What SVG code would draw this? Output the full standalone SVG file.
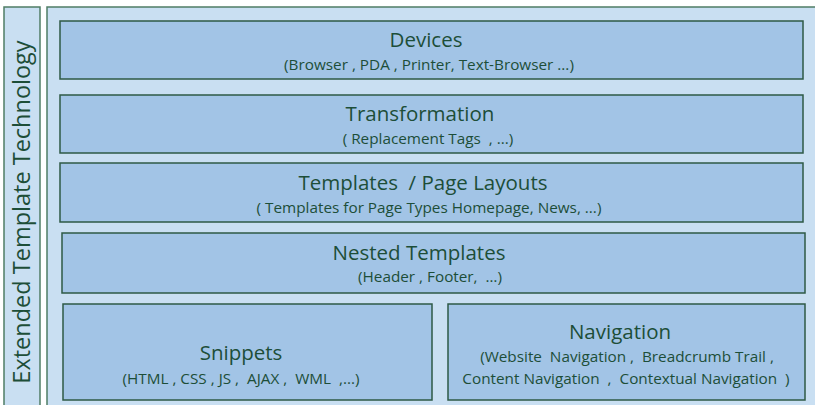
<svg xmlns="http://www.w3.org/2000/svg" width="815" height="405" viewBox="0 0 815 405">
<style>
.panel{fill:#c9dff2;stroke:#4f7d66;stroke-width:1.5}
.box{fill:#a2c4e6;stroke:#2e5a45;stroke-width:1.5}
text{font-family:"Open Sans","Noto Sans",sans-serif;fill:#1d4e38;text-anchor:middle;white-space:pre}
.t{font-size:20.5px}
.s{font-size:15.3px}
.side{font-size:23.5px}
</style>
<rect width="815" height="405" fill="#ffffff"/>
<g id="side">
<rect class="panel" x="4" y="7" width="36" height="400"/>
<text class="side" transform="translate(30,212) rotate(-90)">Extended Template Technology</text>
</g>
<rect class="panel" x="47" y="7" width="780" height="400"/>
<g id="devices">
<rect class="box" x="60" y="21" width="743" height="58"/>
<text class="t" x="426" y="47">Devices</text>
<text class="s" x="429" y="70">(Browser , PDA , Printer, Text-Browser ...)</text>
</g>
<g id="transformation">
<rect class="box" x="60" y="95" width="743" height="58"/>
<text class="t" x="420" y="121">Transformation</text>
<text class="s" x="428" y="144">( Replacement Tags  , ...)</text>
</g>
<g id="templates">
<rect class="box" x="60" y="163" width="743" height="59"/>
<text class="t" x="423" y="190">Templates  / Page Layouts</text>
<text class="s" x="429" y="213">( Templates for Page Types Homepage, News, ...)</text>
</g>
<g id="nested">
<rect class="box" x="62" y="233" width="743" height="60"/>
<text class="t" x="419" y="260">Nested Templates</text>
<text class="s" x="430" y="282">(Header , Footer,  …)</text>
</g>
<g id="snippets">
<rect class="box" x="63" y="304" width="369" height="96"/>
<text class="t" x="241" y="360">Snippets</text>
<text class="s" x="241" y="384">(HTML , CSS , JS ,  AJAX ,  WML  ,...)</text>
</g>
<g id="navigation">
<rect class="box" x="448" y="304" width="357" height="96"/>
<text class="t" x="620" y="339">Navigation</text>
<text class="s" x="627" y="362">(Website  Navigation ,  Breadcrumb Trail ,</text>
<text class="s" x="626" y="384">Content Navigation  ,  Contextual Navigation  )</text>
</g>
<g id="connectors"></g>
</svg>
